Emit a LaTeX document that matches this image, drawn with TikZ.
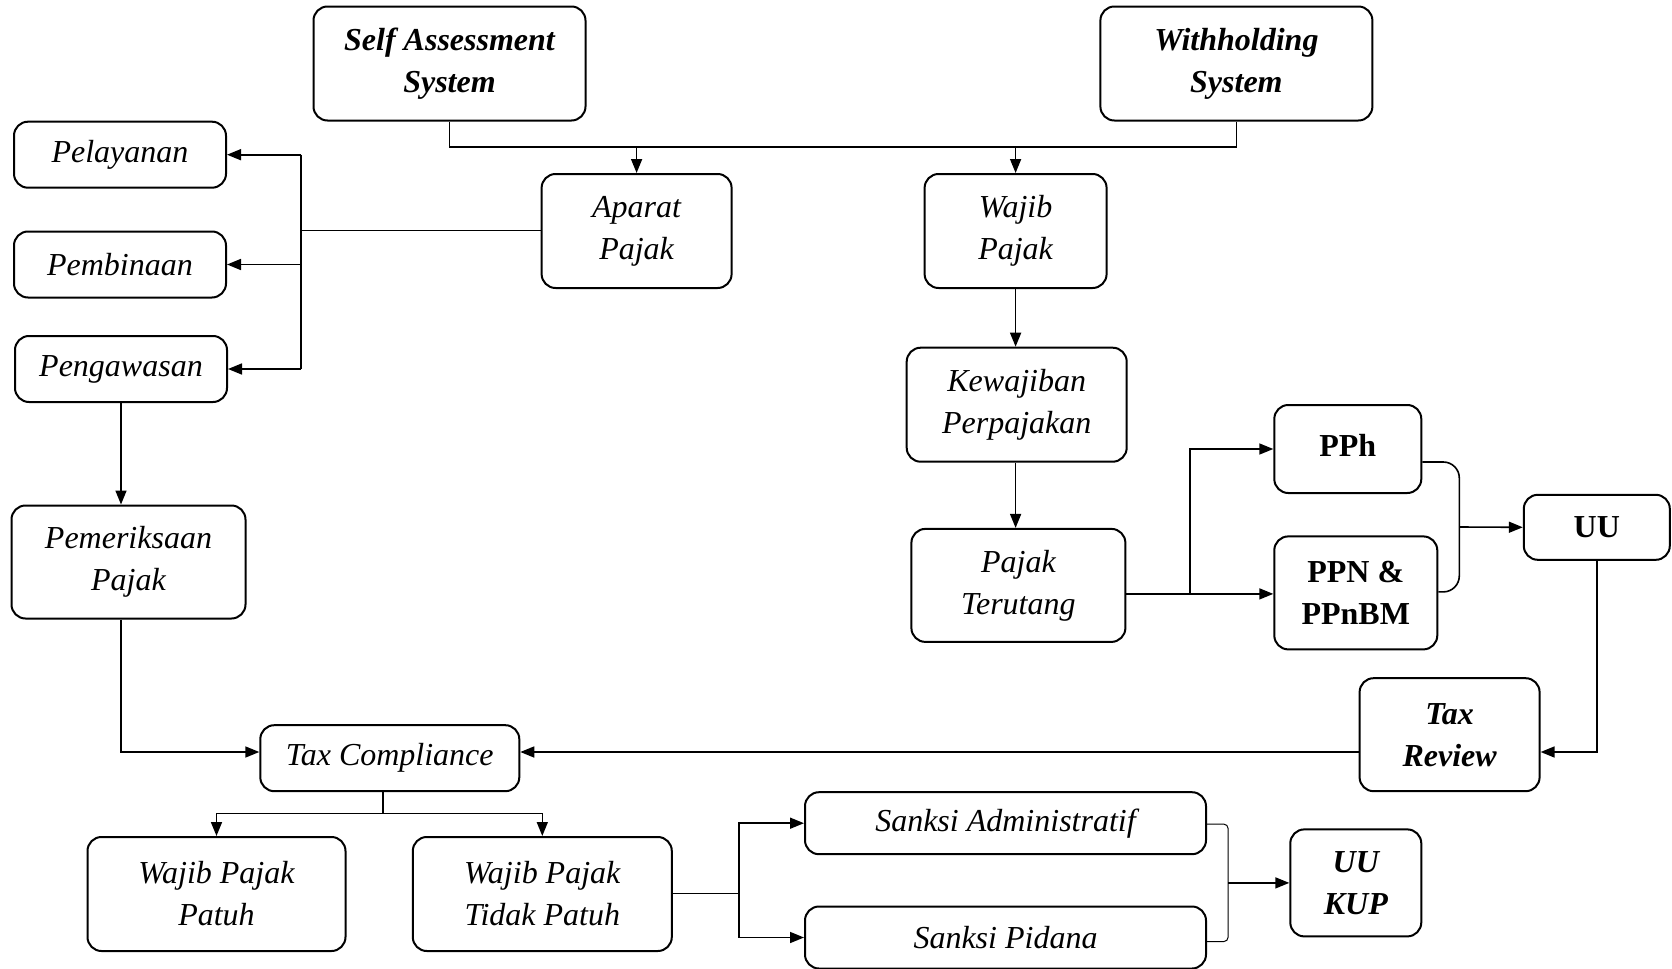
\documentclass[tikz,border=0pt]{standalone}
\usepackage{fontspec}
\setmainfont{Liberation Serif}
\usetikzlibrary{arrows.meta}

\tikzset{
	box/.style={draw, line width=1pt, rounded corners=7pt, align=center, inner sep=2pt,
		font=\itshape\fontsize{16}{21}\selectfont},
	boldit/.style={font=\bfseries\itshape\fontsize{16}{21}\selectfont},
	boldup/.style={font=\bfseries\fontsize{16}{21}\selectfont},
	flow/.style={-{Triangle[length=7pt,width=5.5pt]}, line width=0.8pt},
	link/.style={line width=0.8pt},
	thin link/.style={line width=0.5pt, rounded corners=2pt},
}

\begin{document}
\begin{tikzpicture}[x=0.5pt, y=-0.5pt]
	\useasboundingbox (0,0) rectangle (1672,969);

	% top row
	\node[box, boldit, minimum width=136pt, minimum height=57pt] (sas) at (449.5,63.5) {Self Assessment\\System};
	\node[box, boldit, minimum width=136pt, minimum height=57pt] (whs) at (1236.4,63.5) {Withholding\\System};

	\node[box, minimum width=95pt, minimum height=57pt] (aparat) at (636.6,231) {Aparat\\Pajak};
	\node[box, minimum width=91pt, minimum height=57pt] (wajib) at (1015.6,231) {Wajib\\Pajak};

	% left column
	\node[box, minimum width=106pt, minimum height=33pt] (pelayanan) at (120,154.7) {Pelayanan};
	\node[box, minimum width=106pt, minimum height=33pt] (pembinaan) at (120,264.5) {Pembinaan};
	\node[box, minimum width=106pt, minimum height=33pt] (pengawasan) at (121,369) {Pengawasan};
	\node[box, minimum width=117pt, minimum height=56.5pt] (periksa) at (128.5,562) {Pemeriksaan\\Pajak};

	% right column
	\node[box, minimum width=110pt, minimum height=57pt] (kewajiban) at (1016.7,404.7) {Kewajiban\\Perpajakan};
	\node[box, minimum width=107pt, minimum height=56.5pt] (terutang) at (1018.4,585.4) {Pajak\\Terutang};
	\node[box, boldup, minimum width=73.5pt, minimum height=44pt] (pph) at (1347.8,449) {\raisebox{4pt}{PPh}};
	\node[box, boldup, minimum width=81.5pt, minimum height=56.5pt] (ppn) at (1355.8,592.9) {PPN \&\\PPnBM};
	\node[box, boldup, minimum width=73pt, minimum height=32.5pt] (uu) at (1596.8,527.3) {UU};
	\node[box, boldit, minimum width=90pt, minimum height=56.5pt] (review) at (1449.6,734.7) {Tax\\Review};

	% bottom
	\node[box, minimum width=129.5pt, minimum height=33pt] (compliance) at (389.8,758.2) {Tax Compliance};
	\node[box, minimum width=129pt, minimum height=57pt] (patuh) at (216.5,894) {Wajib Pajak\\Patuh};
	\node[box, minimum width=129.5pt, minimum height=57pt] (tdkpatuh) at (542.3,894) {Wajib Pajak\\Tidak Patuh};
	\node[box, minimum width=200.5pt, minimum height=31pt] (sadm) at (1005.5,823.2) {Sanksi Administratif};
	\node[box, minimum width=200.5pt, minimum height=31pt] (spid) at (1005.5,937.5) {Sanksi Pidana};
	\node[box, boldit, minimum width=65.5pt, minimum height=53.5pt] (kup) at (1355.8,882.9) {UU\\KUP};

	\coordinate (sysj) at (636.6,147.2);
	\coordinate (aparj) at (300.7,230.3);
	\coordinate (revj) at (0,752);
	\coordinate (compj) at (382.8,813.6);
	\coordinate (tdkj) at (739,893.6);
	\coordinate (ptj) at (1190,593.9);
	\coordinate (ppj) at (1459,527);
	\coordinate (sanj) at (1228,882.9);

	% systems to aparat and wajib pajak
	\draw[link] (sas.south) |- (sysj);
	\draw[link] (sysj) -| (whs.south);
	\draw[flow] (sysj) -- (aparat.north);
	\draw[flow] (sysj -| wajib.north) -- (wajib.north);

	% aparat pajak
	\draw[link] (aparat.west |- aparj) -- (aparj);
	\draw[link] (aparj |- pelayanan.east) -- (aparj |- pengawasan.east);
	\draw[flow] (aparj |- pelayanan.east) -- (pelayanan.east);
	\draw[flow] (aparj |- pembinaan.east) -- (pembinaan.east);
	\draw[flow] (aparj |- pengawasan.east) -- (pengawasan.east);
	\draw[flow] (pengawasan.south) -- (pengawasan.south |- periksa.north);
	\draw[flow] (pengawasan.south |- periksa.south) |- (compliance.west |- revj);

	% wajib pajak
	\draw[flow] (wajib.south) -- (wajib.south |- kewajiban.north);
	\draw[flow] (kewajiban.south -| wajib.south) -- (terutang.north -| wajib.south);
	\draw[link] (terutang.east |- ptj) -- (ptj);
	\draw[flow] (ptj) -- (ppn.west |- ptj);
	\draw[flow] (ptj) |- (pph.west);
	\draw[link, rounded corners=8pt] ([yshift=-6.5pt]pph.east) -- ++(37,0) |- ([yshift=0.5pt]ppn.east);
	\draw[flow] (ppj) -- (uu.west);
	\draw[flow] (uu.south) |- (review.east |- revj);
	\draw[flow] (review.west |- revj) -- (compliance.east |- revj);

	% tax compliance
	\draw[link] (compliance.south -| compj) -- (compj);
	\draw[flow] (compj) -| (patuh.north);
	\draw[flow] (compj) -| (tdkpatuh.north);
	\draw[link] (tdkpatuh.east |- tdkj) -- (tdkj);
	\draw[flow] (tdkj) |- (sadm.west);
	\draw[flow] (tdkj) |- (spid.west);
	\draw[thin link] ([yshift=-0.5pt]sadm.east) -| (sanj) |- ([yshift=-2pt]spid.east);
	\draw[flow] (sanj) -- (kup.west);
\end{tikzpicture}
\end{document}
